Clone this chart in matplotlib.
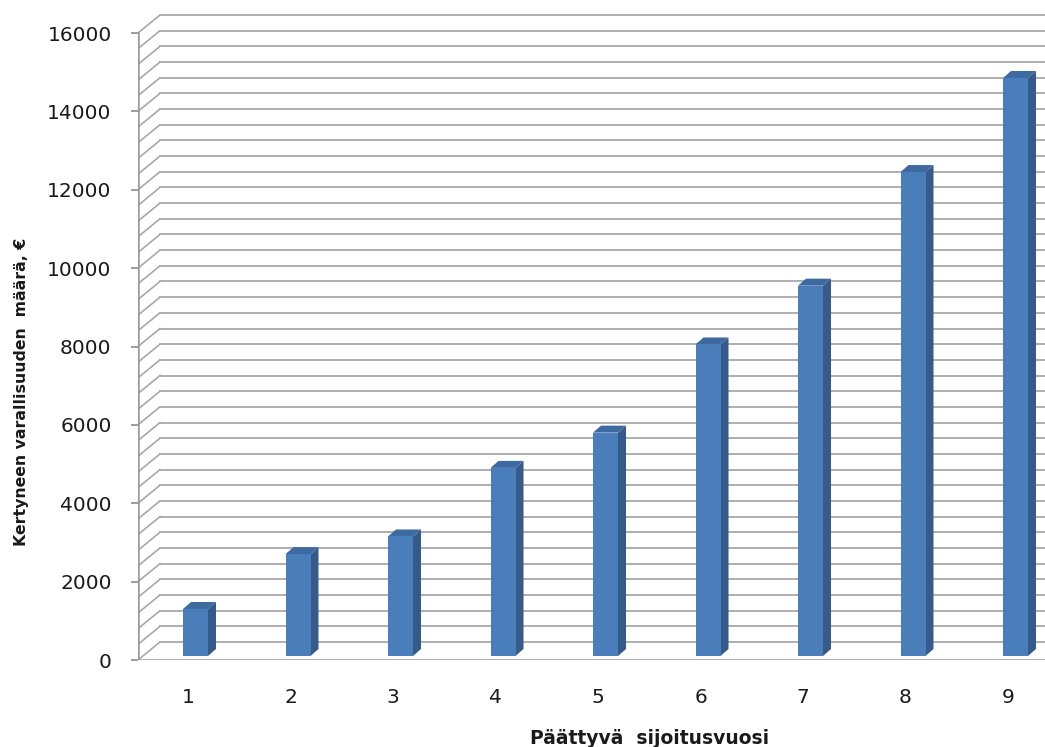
import matplotlib
matplotlib.use("Agg")
import matplotlib.pyplot as plt
from matplotlib.patches import Polygon, Rectangle

# Data
years = [1, 2, 3, 4, 5, 6, 7, 8, 9]
wealth = [1200, 2600, 3050, 4800, 5700, 7950, 9450, 12350, 14750]
y_ticks = list(range(0, 16001, 2000))
grid_values = list(range(0, 16001, 400))
x_label = "Päättyvä  sijoitusvuosi"
y_label = "Kertyneen varallisuuden  määrä, €"

W, H, DPI = 1045, 747, 100
fig = plt.figure(figsize=(W / DPI, H / DPI), dpi=DPI)

# axes frame in pixels
ax_left, ax_right, ax_bottom, ax_top = 138, 1045, 660, 0
ax = fig.add_axes([ax_left / W, (H - ax_bottom) / H,
                   (ax_right - ax_left) / W, (ax_bottom - ax_top) / H])

val_per_px = 16000 / 627.0
px_per_cat = 102.5
x0 = 1 - (188 - ax_left) / px_per_cat
x1 = x0 + (ax_right - ax_left) / px_per_cat
ax.set_xlim(x0, x1)
ax.set_ylim(0, (ax_bottom - ax_top) * val_per_px)

# oblique depth of the chart walls and of the columns
wall_dx = 22 / px_per_cat
wall_dy = 18 * val_per_px
bar_dx = 8 / px_per_cat
bar_dy = 7 * val_per_px
bar_w = 25 / px_per_cat
bar_shift = -5 / px_per_cat
bar_base = 4 * val_per_px

grid_col = "#a8a8a8"
for v in grid_values:
    ax.plot([x0, x0 + wall_dx], [v, v + wall_dy], color=grid_col, lw=1.2, zorder=1)
    ax.plot([x0 + wall_dx, x1], [v + wall_dy, v + wall_dy], color=grid_col, lw=1.3, zorder=1)

# front axis lines
ax.plot([x0, x0], [0, 16000], color="#9a9a9a", lw=1.8, zorder=2)
ax.plot([x0, x1], [0, 0], color="#9a9a9a", lw=1.8, zorder=2)

front_col = "#4a7ebb"
side_col = "#365b8b"
top_col = "#3e6aa2"
for x, v in zip(years, wealth):
    L = x + bar_shift
    R = L + bar_w
    b = bar_base
    t = bar_base + v
    ax.add_patch(Polygon([(R, b), (R + bar_dx, b + bar_dy), (R + bar_dx, t + bar_dy), (R, t)],
                         closed=True, facecolor=side_col, edgecolor="none", zorder=3))
    ax.add_patch(Polygon([(L, t), (L + bar_dx, t + bar_dy), (R + bar_dx, t + bar_dy), (R, t)],
                         closed=True, facecolor=top_col, edgecolor="none", zorder=3))
    ax.add_patch(Rectangle((L, b), bar_w, v, facecolor=front_col, edgecolor="none", zorder=4))

for s in ax.spines.values():
    s.set_visible(False)

text_col = "#1a1a1a"
ax.set_yticks(y_ticks)
ax.set_yticklabels([str(t) for t in y_ticks])
ax.tick_params(axis="y", length=5, width=1.2, color="#8c8c8c", pad=14,
               labelsize=14.5, labelcolor=text_col)
ax.set_xticks(years)
ax.set_xticklabels([str(x) for x in years])
ax.tick_params(axis="x", length=0, pad=20, labelsize=14.5, labelcolor=text_col)

label_font = ["DejaVu Sans"]
fig.text(650 / W, (H - 744) / H, x_label, ha="center", va="baseline",
         fontsize=13.5, fontweight="bold", family=label_font, color=text_col)
fig.text(22 / W, (H - 392) / H, y_label, ha="center", va="center", rotation=90,
         fontsize=11.3, fontweight="bold", family=label_font, color=text_col)

fig.savefig("out.png", dpi=DPI, facecolor="white")
